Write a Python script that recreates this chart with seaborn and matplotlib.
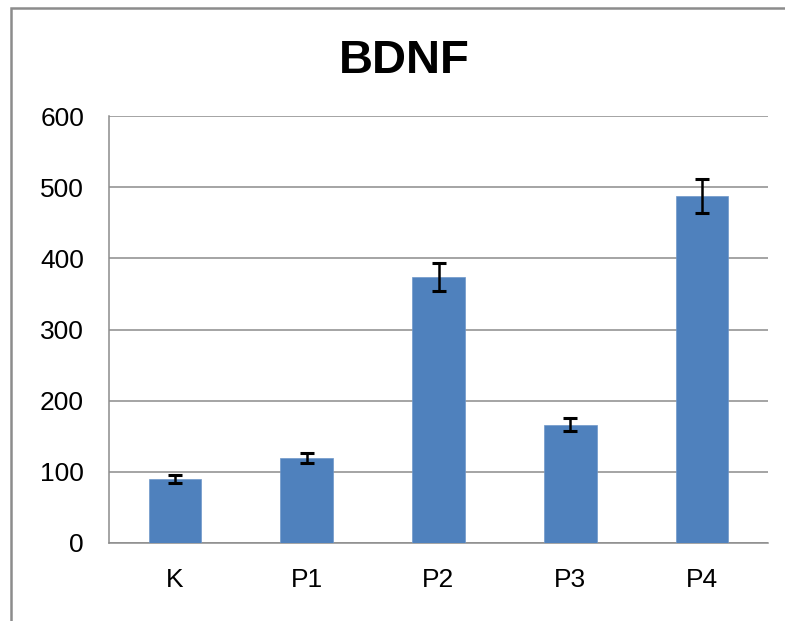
import matplotlib
matplotlib.use("Agg")
import matplotlib.pyplot as plt
import seaborn as sns
from matplotlib.patches import Rectangle

categories = ["K", "P1", "P2", "P3", "P4"]
values = [90, 120, 374, 166, 488]
errors = [5, 7, 20, 9, 24]
y_ticks = [0, 100, 200, 300, 400, 500, 600]

sns.set_theme(style="white")
plt.rcParams["font.family"] = ["Liberation Sans", "DejaVu Sans"]
plt.rcParams["text.color"] = "black"

fig = plt.figure(figsize=(7.85, 6.21), dpi=100)
ax = fig.add_axes([109/785, 1-543/621, (768-109)/785, (543-116)/621])

sns.barplot(x=categories, y=values, color="#4F81BD", width=0.4, errorbar=None,
            saturation=1, ax=ax, zorder=3, edgecolor="#6f97c9", linewidth=0.5)
ax.errorbar(range(len(categories)), values, yerr=errors, fmt="none",
            ecolor="black", elinewidth=1.8, capsize=4.7, capthick=2.2, zorder=4)

ax.set_ylim(0, 600)
ax.set_yticks(y_ticks)
ax.set_xlim(-0.5, 4.5)
ax.yaxis.grid(True, color="#8c8c8c", linewidth=1.1, zorder=0)
ax.set_axisbelow(True)
for s in ["top", "right"]:
    ax.spines[s].set_visible(False)
for s in ["left", "bottom"]:
    ax.spines[s].set_color("#8c8c8c")
    ax.spines[s].set_linewidth(1.1)
ax.tick_params(axis="both", length=0, labelsize=19, colors="black")
ax.tick_params(axis="y", pad=18)
ax.tick_params(axis="x", pad=18)
ax.set_xlabel("")
ax.set_ylabel("")

fig.text(404/785, 1-73/621, "BDNF", ha="center", va="baseline",
         fontsize=34, fontweight="bold", color="black")

fig.patches.append(Rectangle((11/785, -0.1), 1.2, 1-8/621+0.1,
                             transform=fig.transFigure, fill=False,
                             edgecolor="#8c8c8c", linewidth=1.8))

fig.savefig("out.png", dpi=100)
